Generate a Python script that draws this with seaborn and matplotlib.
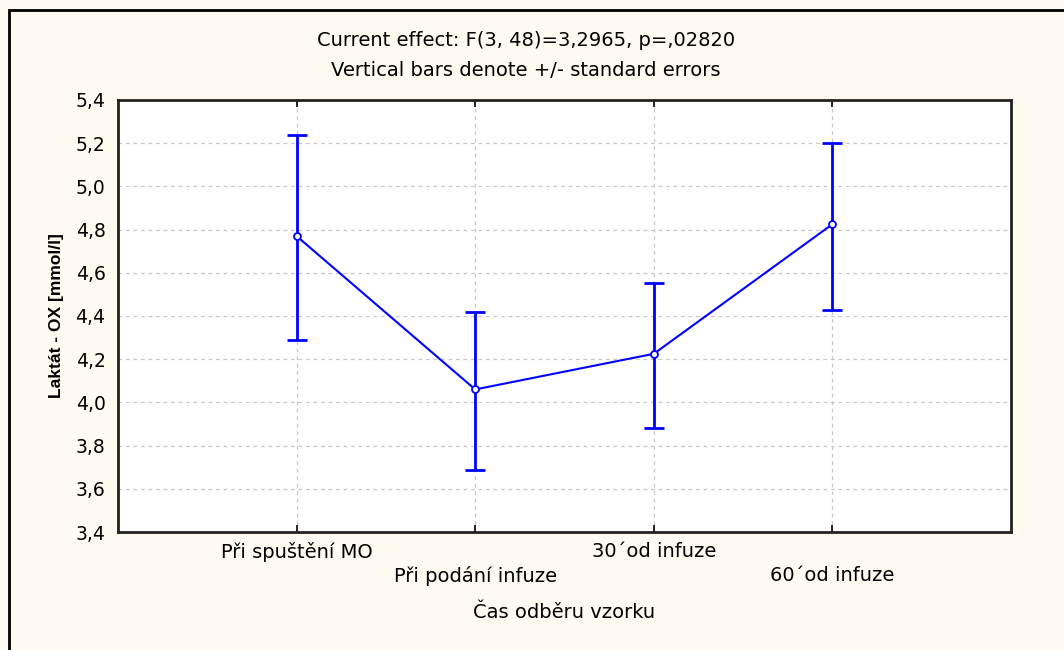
import matplotlib
matplotlib.use("Agg")
import matplotlib.pyplot as plt
import seaborn as sns
import pandas as pd
from matplotlib.patches import Rectangle

categories = ["Při spuštění MO", "Při podání infuze", "30´od infuze", "60´od infuze"]
means = [4.77, 4.06, 4.225, 4.825]
upper = [5.24, 4.42, 4.555, 5.20]
lower = [4.29, 3.685, 3.88, 4.43]
yticks = [3.4, 3.6, 3.8, 4.0, 4.2, 4.4, 4.6, 4.8, 5.0, 5.2, 5.4]
title1 = "Current effect: F(3, 48)=3,2965, p=,02820"
title2 = "Vertical bars denote +/- standard errors"
xlabel = "Čas odběru vzorku"
ylabel = "Laktát - OX [mmol/l]"

sns.set_style("white")
plt.rcParams['font.family'] = ['DejaVu Sans']
plt.rcParams['text.color'] = 'black'
plt.rcParams['axes.labelcolor'] = 'black'
plt.rcParams['xtick.color'] = 'black'
plt.rcParams['ytick.color'] = 'black'

bg = "#FFFAEF"
blue = "#0000FF"

fig = plt.figure(figsize=(10.64, 6.5), dpi=100, facecolor=bg)
ax = fig.add_axes([118/1064, 1-532/650, (1011-118)/1064, (532-100)/650])
ax.set_facecolor("white")

pos = list(range(len(categories)))
sns.lineplot(x=pos, y=means, ax=ax, color=blue, lw=1.5, marker="o",
             markersize=5, markerfacecolor="white", markeredgecolor=blue,
             markeredgewidth=1.3, zorder=4)
yerr = [[m - l for m, l in zip(means, lower)], [u - m for m, u in zip(means, upper)]]
ax.errorbar(pos, means, yerr=yerr, fmt="none", ecolor=blue, elinewidth=2,
            capsize=7, capthick=2, zorder=3)

ax.set_xlim(-1, 4)
ax.set_ylim(3.4, 5.4)
ax.set_yticks(yticks)
ax.set_yticklabels([f"{v:.1f}".replace(".", ",") for v in yticks], fontsize=13.5)
ax.set_xticks(pos)
ax.set_xticklabels([("" if i % 2 == 0 else "\n") + c for i, c in enumerate(categories)],
                   fontsize=14, linespacing=1.35)
ax.grid(True, color="#c8c8c8", linestyle=(0, (3, 3)), lw=0.9)
for s in ax.spines.values():
    s.set_color("#222222")
    s.set_linewidth(2)
ax.tick_params(axis="x", direction="in", length=5, width=1.2, top=True, bottom=True, pad=7)
ax.tick_params(axis="y", length=0, pad=9)

ax.set_xlabel(xlabel, fontsize=14, labelpad=12)
ax.set_ylabel(ylabel, fontsize=12.5, fontweight="bold", labelpad=8,
              family=['Liberation Sans', 'DejaVu Sans'])

fig.text(526/1064, 1-40/650, title1, ha="center", va="center", fontsize=14)
fig.text(526/1064, 1-70/650, title2, ha="center", va="center", fontsize=14)

fig.patches.append(Rectangle((9/1064, -0.1), 1.2, 1-10/650+0.1, transform=fig.transFigure,
                             fill=False, edgecolor="black", lw=2))

fig.savefig("out.png", dpi=100, facecolor=bg)
